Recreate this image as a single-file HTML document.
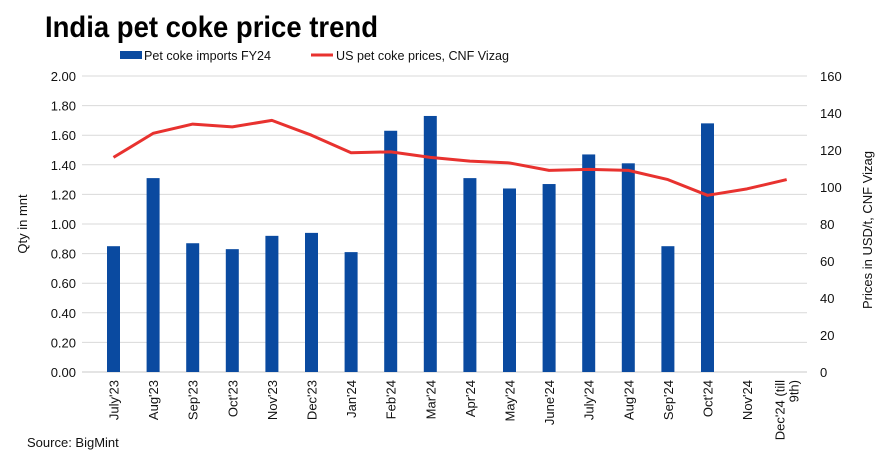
<!DOCTYPE html>
<html><head><meta charset="utf-8"><style>
body{margin:0;background:#fff;width:889px;height:460px;overflow:hidden;font-family:"Liberation Sans",sans-serif}
</style></head><body>
<svg id="chart" width="889" height="460" xmlns="http://www.w3.org/2000/svg" font-family="Liberation Sans, sans-serif">
<text x="45" y="37" font-size="30" font-weight="bold" fill="#000" textLength="333" lengthAdjust="spacingAndGlyphs">India pet coke price trend</text>
<g>
<rect x="120" y="51" width="22" height="8" fill="#0a4aa0"/>
<text x="144" y="60" font-size="13" fill="#111" textLength="127" lengthAdjust="spacingAndGlyphs">Pet coke imports FY24</text>
<line x1="311" y1="55" x2="333" y2="55" stroke="#e8322f" stroke-width="3"/>
<text x="336" y="60" font-size="13" fill="#111" textLength="173" lengthAdjust="spacingAndGlyphs">US pet coke prices, CNF Vizag</text>
</g>
<text transform="translate(27,224) rotate(-90)" text-anchor="middle" font-size="13" fill="#111">Qty in mnt</text>
<text transform="translate(872,230) rotate(-90)" text-anchor="middle" font-size="13" fill="#111">Prices in USD/t, CNF Vizag</text>
<text x="27" y="447" font-size="13" fill="#111">Source: BigMint</text>
<g id="grid"></g><g id="bars"></g><g id="line"></g><g id="labels"></g>
</svg>
<script>
const categories=["July'23","Aug'23","Sep'23","Oct'23","Nov'23","Dec'23","Jan'24","Feb'24","Mar'24","Apr'24","May'24","June'24","July'24","Aug'24","Sep'24","Oct'24","Nov'24","Dec'24 (till|9th)"];
const imports=[0.85,1.31,0.87,0.83,0.92,0.94,0.81,1.63,1.73,1.31,1.24,1.27,1.47,1.41,0.85,1.68,null,null];
const prices=[116,129,134,132.5,136,128,118.5,119,116,114,113,109,109.5,109,104,95.5,99,104];
const leftTicks=["0.00","0.20","0.40","0.60","0.80","1.00","1.20","1.40","1.60","1.80","2.00"];
const rightTicks=["0","20","40","60","80","100","120","140","160"];
const NS="http://www.w3.org/2000/svg";
const Y0=372,Y1=76,L=82,R=807;
const x=i=>113.5+39.6*i;
const yl=v=>Y0-(v/2)*(Y0-Y1);
const yr=v=>Y0-(v/160)*(Y0-Y1);
function mk(t,a,p){const e=document.createElementNS(NS,t);for(const k in a)e.setAttribute(k,a[k]);document.getElementById(p).appendChild(e);return e;}
leftTicks.forEach(t=>{const y=yl(+t);
 const g=mk('line',{x1:L,x2:R,y1:y,y2:y,stroke:+t===0?'#c8c8c8':'#d9d9d9','stroke-width':1},'grid');
 
 
 const tx=mk('text',{x:76,y:y+5,'text-anchor':'end','font-size':13,fill:'#111'},'labels');tx.textContent=t;
 
 });
rightTicks.forEach(t=>{const y=yr(+t);
 const tx=mk('text',{x:820,y:y+5,'font-size':13,fill:'#111'},'labels');tx.textContent=t;
 
 });
imports.forEach((v,i)=>{if(v==null)return;
 const b=mk('rect',{x:x(i)-6.5,y:yl(v),width:13,height:Y0-yl(v),fill:'#0a4aa0'},'bars');
 
 });
const pl=mk('polyline',{points:prices.map((v,i)=>x(i)+','+yr(v)).join(' '),fill:'none',stroke:'#e8322f','stroke-width':3,'stroke-linejoin':'round'},'line');


categories.forEach((c,i)=>{const parts=c.split('|');
 parts.forEach((p,j)=>{const cx=x(i)+5-(parts.length-1-j)*14+(parts.length>1?7:0);
  const t=mk('text',{transform:`translate(${cx},${Y0+8}) rotate(-90)`,'text-anchor':'end','font-size':13,fill:'#111'},'labels');
  t.textContent=p;
  
  });});
</script>
</body></html>
